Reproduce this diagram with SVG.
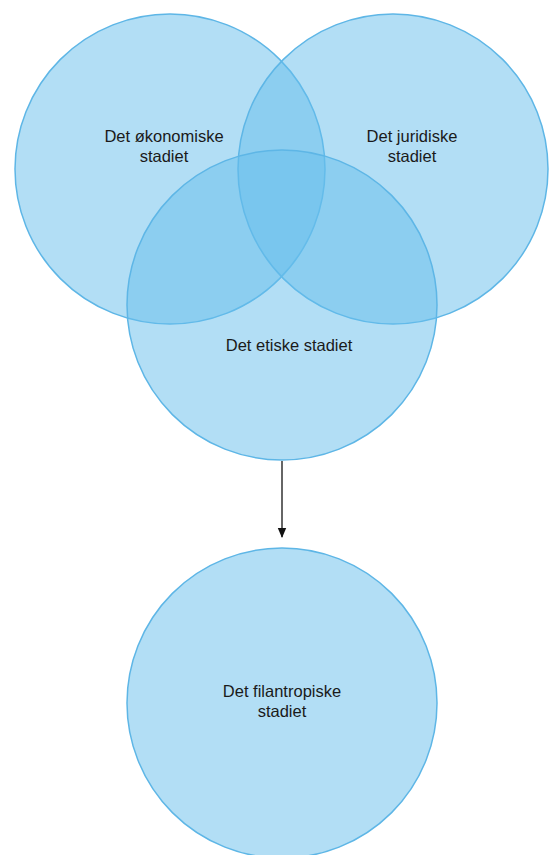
<svg xmlns="http://www.w3.org/2000/svg" width="550" height="855" viewBox="0 0 550 855">
<defs>
<style>
.c{fill:#66bdeb;fill-opacity:0.5;stroke:#5eb6e6;stroke-width:1.5}
.t{font-family:"Liberation Sans",Arial,sans-serif;font-size:16.5px;fill:#1a1a1a;text-anchor:middle}
.e{stroke:#333;stroke-width:1.5;fill:none}
</style>
<marker id="ah" markerWidth="10" markerHeight="10" refX="9" refY="5" orient="auto" markerUnits="userSpaceOnUse">
<path d="M0,0.8 L10,5 L0,9.2 Z" fill="#111"/>
</marker>
</defs>
<rect width="550" height="855" fill="#fff"/>
<g id="okonomiske"><circle class="c" cx="170" cy="169" r="155"/><text class="t" x="164" y="142">Det økonomiske</text><text class="t" x="164" y="162">stadiet</text></g>
<g id="juridiske"><circle class="c" cx="393" cy="169" r="155"/><text class="t" x="412" y="142">Det juridiske</text><text class="t" x="412" y="162">stadiet</text></g>
<g id="etiske"><circle class="c" cx="282" cy="305" r="155"/><text class="t" x="289" y="351">Det etiske stadiet</text></g>
<g id="filantropiske"><circle class="c" cx="282" cy="703" r="155"/><text class="t" x="282" y="697">Det filantropiske</text><text class="t" x="282" y="717">stadiet</text></g>
<g id="connectors"><line class="e" x1="282" y1="461" x2="282" y2="537" marker-end="url(#ah)"/></g>
</svg>
